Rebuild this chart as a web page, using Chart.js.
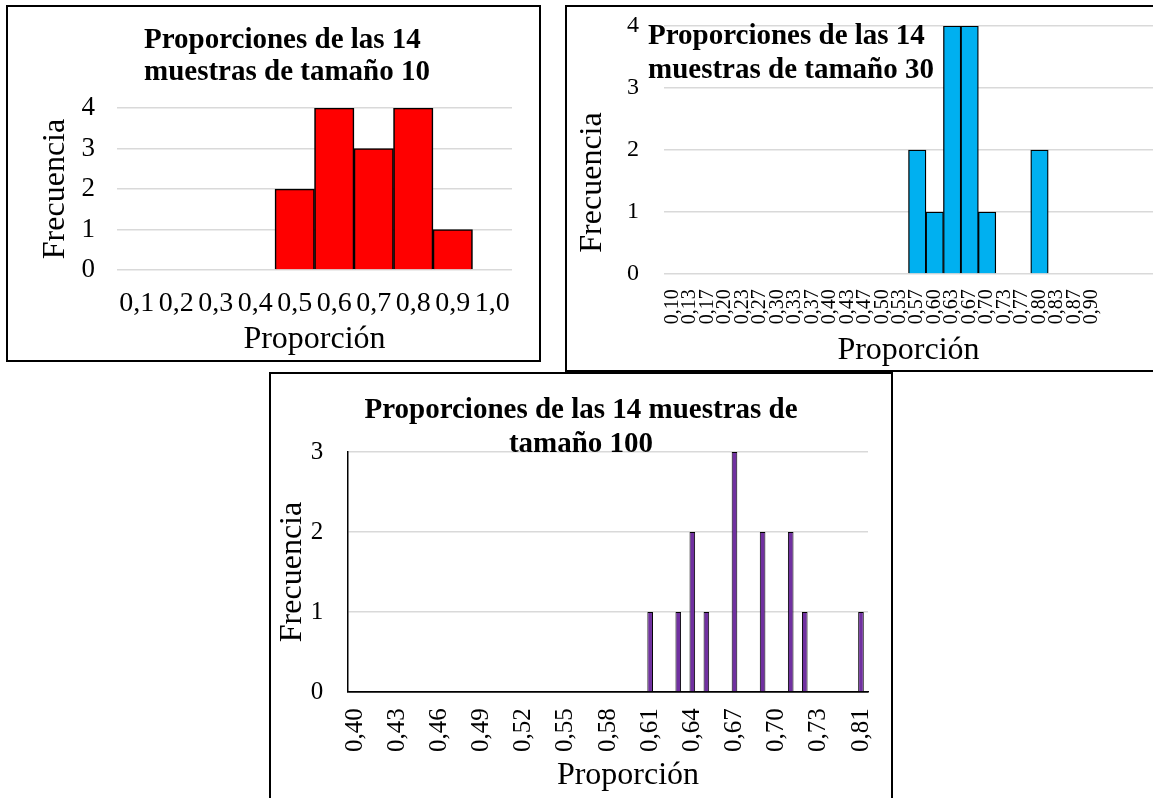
<!DOCTYPE html>
<html><head><meta charset="utf-8">
<script src="https://cdn.jsdelivr.net/npm/chart.js@4.4.1/dist/chart.umd.min.js"></script>
<style>
html,body{margin:0;padding:0;background:#fff;}
body{position:relative;width:1153px;height:798px;overflow:hidden;}
.box{position:absolute;border:2px solid #000;box-sizing:border-box;}
canvas{position:absolute;}
</style></head><body>
<div class="box" style="left:6px;top:5px;width:535px;height:357px"></div>
<div class="box" style="left:565px;top:5px;width:700px;height:367px"></div>
<div class="box" style="left:269px;top:372px;width:624px;height:460px"></div>
<canvas id="c1" width="540" height="356" style="left:6px;top:6px"></canvas>
<canvas id="c2" width="586" height="365" style="left:567px;top:6px"></canvas>
<canvas id="c3" width="622" height="425" style="left:270px;top:373px"></canvas>
<script>
// ---------------- data ----------------
const labels1 = ['0,1','0,2','0,3','0,4','0,5','0,6','0,7','0,8','0,9','1,0'];
const freq1   = [0, 0, 0, 0, 2, 4, 3, 4, 1, 0];

const labels2 = ['0,10','0,13','0,17','0,20','0,23','0,27','0,30','0,33','0,37','0,40','0,43','0,47','0,50',
                 '0,53','0,57','0,60','0,63','0,67','0,70','0,73','0,77','0,80','0,83','0,87','0,90'];
const freq2   = [0,0,0,0,0,0,0,0,0,0,0,0,0, 0,2,1,4,4,1,0,0,2,0,0,0];
const blankSlots2 = 3;   // unlabeled empty categories at the right end of chart 2

const labels3 = ['0,40','0,41','0,42','0,43','0,44','0,45','0,46','0,47','0,48','0,49','0,50','0,51','0,52',
                 '0,53','0,54','0,55','0,56','0,57','0,58','0,59','0,60','0,61','0,62','0,63','0,64','0,65',
                 '0,66','0,67','0,68','0,69','0,70','0,71','0,72','0,73','0,74','0,75','0,81'];
const freq3   = [0,0,0,0,0,0,0,0,0,0,0,0,0, 0,0,0,0,0,0,0,0,1,0,1,2,1, 0,3,0,2,0,2,1,0,0,0,1];
const labelEvery3 = 3;

const yMax1 = 4, yMax2 = 4, yMax3 = 3;
const title1 = ['Proporciones de las 14', 'muestras de tamaño 10'];
const title2 = ['Proporciones de las 14', 'muestras de tamaño 30'];
const title3 = ['Proporciones de las 14 muestras de', 'tamaño 100'];
const xName = 'Proporción';
const yName = 'Frecuencia';

// ---------------- helpers ----------------
const SERIF = "'Liberation Serif','Times New Roman',serif";
const M = 0.3375;       // alphabetic baseline below the 'middle' line, in em
const GRID = '#d9d9d9';
Chart.defaults.color = '#000';
Chart.defaults.font.family = SERIF;

function font(size, bold, lh) { return {family: SERIF, size: size, weight: bold ? 'bold' : 'normal', lineHeight: lh || 1}; }

function placer(spec) {
  return { id: 'placer', afterLayout(chart) {
    const t = chart.titleBlock;
    if (!t) return;
    const s = chart.boxes.find(b => b !== t && b.constructor === t.constructor);
    if (spec.title) Object.assign(t, spec.title);
    if (spec.subtitle && s) Object.assign(s, spec.subtitle);
  }};
}
function hBox(g, t) {
  const lhPx = t.size * (t.lh || 1);
  const top = t.base - M * t.size - lhPx / 2 - g.cy;
  if (t.align === 'start') return {left: t.x - g.cx, right: t.x - g.cx + 1200, top: top, bottom: top + 100};
  return {left: t.x - g.cx - 600, right: t.x - g.cx + 600, top: top, bottom: top + 100};
}
function vBox(g, t) {
  const left = t.base - M * t.size - t.size / 2 - g.cx;
  const c = t.y - g.cy;
  return {left: left, right: left + 10, top: c - 400, bottom: c + 400};
}
function yScale(g, max, tk, ttl, opts) {
  return {
    min: 0, max: max,
    ticks: {stepSize: 1, font: font(tk.size), color: '#000', padding: g.L - tk.right},
    grid: {color: opts.gridColor || GRID, lineWidth: 1.5, drawTicks: false},
    border: {display: !!opts.axisLine, color: '#000', width: 1.5},
    title: ttl ? {display: true, text: yName, font: font(ttl.size), color: '#000',
                  padding: {top: ttl.base - M * ttl.size - ttl.size / 2 - g.cx, bottom: 0}} : {display: false},
    afterFit(s) { s.width = g.L - g.cx; s.paddingTop = 0; s.paddingBottom = 0; }
  };
}
function xScale(g, tk, ttl, opts) {
  const rot = !!tk.rot;
  const pad = rot ? tk.top - g.B : (tk.base - M * tk.size) - tk.size / 2 - g.B;
  const ticks = {font: font(tk.size), color: '#000', padding: pad, autoSkip: false,
                 minRotation: rot ? 90 : 0, maxRotation: rot ? 90 : 0};
  if (opts.callback) ticks.callback = opts.callback;
  return {
    type: 'category',
    ticks: ticks,
    grid: {display: false, drawTicks: false},
    border: {display: !!opts.axisLine, color: '#000', width: 1.5},
    title: ttl ? {display: true, text: xName, font: font(ttl.size), color: '#000',
                  padding: {top: 0, bottom: (g.cy + g.ch) - (ttl.base - M * ttl.size) - ttl.size / 2}} : {display: false},
    afterFit(s) { s.height = g.cy + g.ch - g.B; s.paddingLeft = 0; s.paddingRight = 0; }
  };
}
function layout(g) {
  return {autoPadding: false, padding: {left: 0, top: g.T - g.cy, right: (g.cx + g.cw) - g.R, bottom: 0}};
}
function hiddenPad(lines, size, lh) { return {top: 0, bottom: -(lines * size * (lh || 1))}; }

// ---------------- chart 1 ----------------
const g1 = {cx: 6, cy: 6, cw: 540, ch: 356, L: 117, R: 512, T: 108, B: 270};
const t1 = {size: 29, lh: 1.10, x: 144, base: 50, align: 'start'};
new Chart(document.getElementById('c1'), {
  type: 'bar',
  data: {labels: labels1, datasets: [{data: freq1, backgroundColor: '#ff0000', borderColor: '#000', borderWidth: 1.6,
         barPercentage: 1, categoryPercentage: 1}]},
  options: {
    responsive: false, animation: false, devicePixelRatio: 1, events: [],
    layout: layout(g1),
    plugins: {legend: {display: false}, tooltip: {enabled: false},
      title: {display: true, text: title1, font: font(t1.size, true, t1.lh), color: '#000', align: 'start',
              padding: hiddenPad(2, t1.size, t1.lh)}},
    scales: {
      x: xScale(g1, {size: 28, base: 312.7}, {size: 32, base: 350.7}, {}),
      y: yScale(g1, yMax1, {size: 27, right: 95}, {size: 32, base: 66.7}, {})
    }
  },
  plugins: [placer({title: hBox(g1, t1)})]
});

// ---------------- chart 2 ----------------
const g2 = {cx: 567, cy: 6, cw: 586, ch: 365, L: 664, R: 1153, T: 26, B: 274};
const t2 = {size: 29, lh: 1.15, x: 648, base: 46.7, align: 'start'};
const yT2 = {size: 32, base: 603.3, y: 182.5};
const allLabels2 = labels2.concat(new Array(blankSlots2).fill(''));
const allFreq2 = freq2.concat(new Array(blankSlots2).fill(null));
new Chart(document.getElementById('c2'), {
  type: 'bar',
  data: {labels: allLabels2, datasets: [{data: allFreq2, backgroundColor: '#00b0f0', borderColor: '#000', borderWidth: 1.3,
         barPercentage: 1, categoryPercentage: 1}]},
  options: {
    responsive: false, animation: false, devicePixelRatio: 1, events: [],
    layout: layout(g2),
    plugins: {legend: {display: false}, tooltip: {enabled: false},
      title: {display: true, text: title2, font: font(t2.size, true, t2.lh), color: '#000', align: 'start',
              padding: hiddenPad(2, t2.size, t2.lh)},
      subtitle: {display: true, text: yName, position: 'left', font: font(yT2.size), color: '#000',
              padding: hiddenPad(1, yT2.size, 1)}},
    scales: {
      x: xScale(g2, {size: 20, rot: true, top: 289.3}, {size: 32, base: 361.7}, {}),
      y: yScale(g2, yMax2, {size: 24, right: 639}, null, {})
    }
  },
  plugins: [placer({title: hBox(g2, t2), subtitle: vBox(g2, yT2)})]
});

// ---------------- chart 3 ----------------
const g3 = {cx: 270, cy: 373, cw: 622, ch: 425, L: 348, R: 868, T: 452, B: 692};
const t3 = {size: 29, lh: 1.2, x: 581, base: 420, align: 'center'};
const xT3 = {size: 32, base: 786.7, x: 628, align: 'center'};
new Chart(document.getElementById('c3'), {
  type: 'bar',
  data: {labels: labels3, datasets: [{data: freq3, backgroundColor: '#7030a0', borderColor: '#000', borderWidth: 1,
         barPercentage: 0.4, categoryPercentage: 1}]},
  options: {
    responsive: false, animation: false, devicePixelRatio: 1, events: [],
    layout: layout(g3),
    plugins: {legend: {display: false}, tooltip: {enabled: false},
      title: {display: true, text: title3, font: font(t3.size, true, t3.lh), color: '#000', align: 'center',
              padding: hiddenPad(2, t3.size, t3.lh)},
      subtitle: {display: true, text: xName, position: 'bottom', font: font(xT3.size), color: '#000',
              padding: hiddenPad(1, xT3.size, 1)}},
    scales: {
      x: xScale(g3, {size: 25, rot: true, top: 708.3}, null, {axisLine: true,
           callback: function (v, i) { return i % labelEvery3 === 0 ? this.getLabelForValue(v) : ''; }}),
      y: yScale(g3, yMax3, {size: 25, right: 323.3}, {size: 32, base: 303.3},
           {axisLine: true, gridColor: c => (c.tick && c.tick.value === 0) ? '#000' : GRID})
    }
  },
  plugins: [placer({title: hBox(g3, t3), subtitle: hBox(g3, xT3)})]
});
</script>
</body></html>
